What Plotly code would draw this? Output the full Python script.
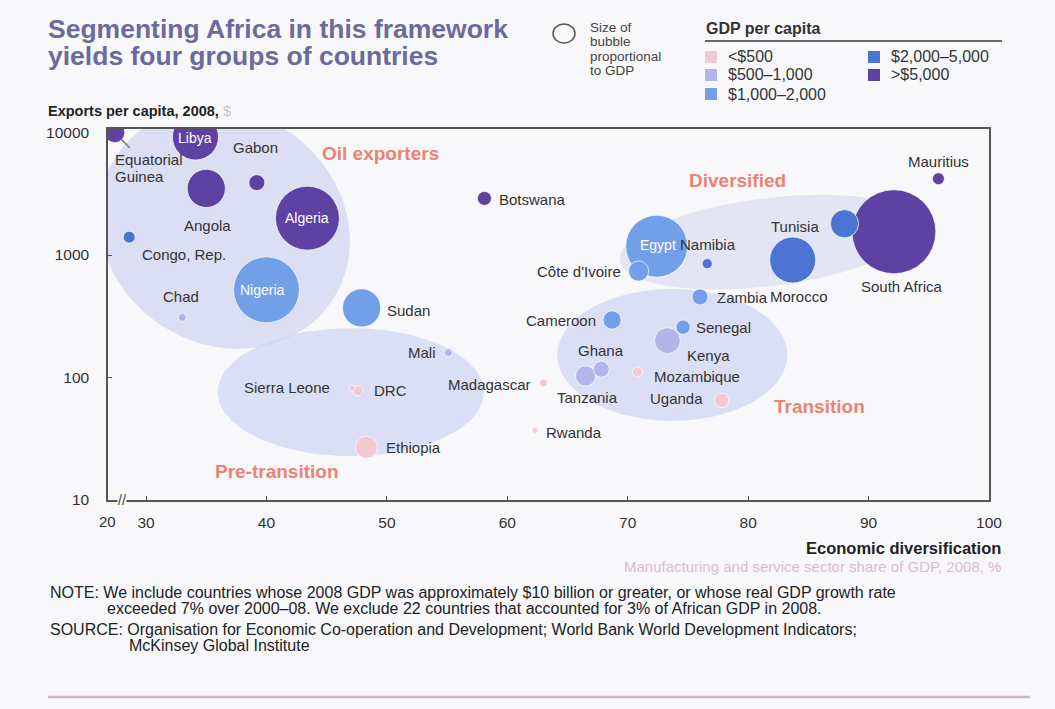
import numpy as np
import plotly.graph_objects as go

# ---------------- data ----------------
countries = ["Equatorial Guinea", "Libya", "Angola", "Gabon", "Algeria", "Congo, Rep.",
             "Nigeria", "Chad", "Sudan", "Botswana", "Mauritius", "South Africa",
             "Tunisia", "Morocco", "Namibia", "Egypt", "Côte d'Ivoire", "Zambia",
             "Cameroon", "Senegal", "Kenya", "Ghana", "Tanzania", "Mozambique",
             "Uganda", "Rwanda", "Madagascar", "Mali", "Sierra Leone", "DRC", "Ethiopia"]
diversification = [27.4, 34.1, 35.0, 39.2, 43.4, 28.6, 40.0, 33.0, 47.9, 58.1, 95.8, 92.1,
                   88.0, 83.7, 76.6, 72.4, 70.9, 76.0, 68.7, 74.6, 73.3, 67.8, 66.5, 70.8,
                   77.8, 62.3, 63.0, 55.1, 47.1, 47.6, 48.3]
exports_pc = [10000, 9200, 3500, 3900, 2000, 1400, 520, 310, 370, 2900, 4200, 1550,
              1800, 910, 850, 1180, 740, 455, 295, 258, 200, 117, 103, 111,
              65, 37, 90, 160, 82, 78, 27]
gdp_bn = [16, 83, 57, 10, 160, 5.6, 170, 2.5, 57, 7.7, 5.6, 276,
          31, 83, 4, 150, 16, 10, 13, 8, 26, 10, 16, 4,
          8, 1.4, 2.5, 2.5, 1.4, 4, 19]
# GDP per capita band index: 0 <$500, 1 $500-1,000, 2 $1,000-2,000, 3 $2,000-5,000, 4 >$5,000
gdp_pc_band = [4, 4, 4, 4, 4, 3, 2, 1, 2, 4, 4, 4,
               3, 3, 3, 2, 2, 2, 2, 2, 1, 1, 1, 0,
               0, 0, 0, 1, 0, 0, 0]
band_labels = ["<$500", "$500–1,000", "$1,000–2,000", "$2,000–5,000", ">$5,000"]
x_ticks = [30, 40, 50, 60, 70, 80, 90, 100]
y_ticks = [10, 100, 1000, 10000]
group_names = ["Oil exporters", "Diversified", "Transition", "Pre-transition"]

# ---------------- styles ----------------
band_colors = ["#f2c9d4", "#b2b5ea", "#72a0e8", "#4c74d5", "#5d42a4"]
BG = "#f8f8fb"
FONT = "Liberation Sans, Arial, sans-serif"
TXT = "#333333"
GROUP_COL = "#ee8272"

W, H = 1055, 709
L, R, T, B = 108, 989, 129, 500
XR = [26.84, 100]
YR = [1, 4.029]
sx = (R - L) / (XR[1] - XR[0])
sy = (B - T) / (YR[1] - YR[0])

def pxx(x):
    return (x - L) / (R - L)

def pxy(y):
    return (B - y) / (B - T)

fig = go.Figure()

# ---------------- group ellipses (decoration) ----------------
ellipses = {
    "Oil exporters": dict(cx=36.5, cy=1660, a=130, b=116, rot=35, fill="rgba(204,206,238,0.62)"),
    "Diversified": dict(cx=81.7, cy=1275, a=150, b=44, rot=-7, fill="rgba(214,216,240,0.6)"),
    "Transition": dict(cx=73.7, cy=153, a=115, b=66, rot=0, fill="rgba(206,212,242,0.7)"),
    "Pre-transition": dict(cx=47.0, cy=76, a=133, b=64, rot=0, fill="rgba(206,212,242,0.7)"),
}
t = np.linspace(0, 2 * np.pi, 121)
for g in group_names:
    e = ellipses[g]
    u = e["a"] * np.cos(t)
    v = e["b"] * np.sin(t)
    th = np.radians(e["rot"])
    X = u * np.cos(th) - v * np.sin(th)
    Y = u * np.sin(th) + v * np.cos(th)
    ex = e["cx"] + X / sx
    ey = 10 ** (np.log10(e["cy"]) - Y / sy)
    fig.add_trace(go.Scatter(x=ex, y=ey, mode="lines", fill="toself",
                             fillcolor=e["fill"], line=dict(width=0),
                             hoverinfo="skip", showlegend=False))

# ---------------- bubbles ----------------
k = 84 / np.sqrt(max(gdp_bn))
order = np.argsort(gdp_bn)[::-1]
fig.add_trace(go.Scatter(
    x=[diversification[i] for i in order],
    y=[exports_pc[i] for i in order],
    mode="markers",
    text=[countries[i] for i in order],
    marker=dict(size=[k * np.sqrt(gdp_bn[i]) for i in order],
                color=[band_colors[gdp_pc_band[i]] for i in order],
                line=dict(color="rgba(255,255,255,0.7)", width=1),
                opacity=1),
    hoverinfo="text", showlegend=False))

# ---------------- country labels ----------------
# (dx, dy in px relative to bubble centre, x anchor, inside-white)
label_pos = {
    "Libya": (0, 1, "center", True),
    "Angola": (1, 37, "center", False),
    "Gabon": (-1, -35, "center", False),
    "Algeria": (0, 0, "center", True),
    "Congo, Rep.": (11, 17, "left", False),
    "Nigeria": (-4, 0, "center", True),
    "Chad": (-1, -21, "center", False),
    "Sudan": (23, 3, "left", False),
    "Botswana": (13, 1, "left", False),
    "Mauritius": (0, -17, "center", False),
    "South Africa": (8, 55, "center", False),
    "Tunisia": (-23, 3, "right", False),
    "Morocco": (6, 36, "center", False),
    "Namibia": (1, -19, "center", False),
    "Egypt": (1, -1, "center", True),
    "Côte d'Ivoire": (-16, 0, "right", False),
    "Zambia": (15, 1, "left", False),
    "Cameroon": (-14, 1, "right", False),
    "Senegal": (11, 0, "left", False),
    "Kenya": (41, 15, "center", False),
    "Ghana": (0, -19, "center", False),
    "Tanzania": (2, 22, "center", False),
    "Mozambique": (15, 5, "left", False),
    "Uganda": (-17, -2, "right", False),
    "Rwanda": (9, 2, "left", False),
    "Madagascar": (-10, 1, "right", False),
    "Mali": (-10, 0, "right", False),
    "Sierra Leone": (-20, -1, "right", False),
    "DRC": (14, 0, "left", False),
    "Ethiopia": (18, 0, "left", False),
}
for i, c in enumerate(countries):
    if c not in label_pos:
        continue
    dx, dy, anc, inside = label_pos[c]
    fig.add_annotation(x=diversification[i], y=np.log10(exports_pc[i]), text=c,
                       xshift=dx, yshift=-dy, xanchor=anc, yanchor="middle",
                       showarrow=False,
                       font=dict(family=FONT, size=14 if inside else 15,
                                 color="white" if inside else TXT))
# Equatorial Guinea: two-line label below-right of its bubble, with a short leader
ieg = countries.index("Equatorial Guinea")
for txt, dy in [("Equatorial", 27), ("Guinea", 44)]:
    fig.add_annotation(x=diversification[ieg], y=np.log10(exports_pc[ieg]), text=txt,
                       xshift=-2, yshift=-dy, xanchor="left", yanchor="middle",
                       showarrow=False, font=dict(family=FONT, size=15, color=TXT))
fig.add_shape(type="line", xref="paper", yref="paper",
              x0=pxx(121), y0=pxy(139), x1=pxx(130), y1=pxy(148),
              line=dict(color="#777", width=1.5))

# ---------------- group labels ----------------
group_label_px = {"Oil exporters": (380, 153), "Diversified": (737, 180),
                  "Transition": (819, 406), "Pre-transition": (277, 471)}
for g in group_names:
    gx, gy = group_label_px[g]
    fig.add_annotation(x=pxx(gx), y=pxy(gy), xref="paper", yref="paper", text="<b>%s</b>" % g,
                       showarrow=False, xanchor="center", yanchor="middle",
                       font=dict(family=FONT, size=19, color=GROUP_COL))

# ---------------- axis break and the "20" label ----------------
fig.add_annotation(x=pxx(122), y=pxy(500), xref="paper", yref="paper", text="//",
                   showarrow=False, bgcolor=BG, borderpad=0, xanchor="center", yanchor="middle",
                   font=dict(family=FONT, size=14, color="#444"))
fig.add_annotation(x=pxx(107), y=pxy(521), xref="paper", yref="paper", text="20",
                   showarrow=False, xanchor="center", yanchor="middle",
                   font=dict(family=FONT, size=15, color=TXT))

# ---------------- titles ----------------
for txt, yy in [("Segmenting Africa in this framework", 29), ("yields four groups of countries", 56)]:
    fig.add_annotation(x=pxx(46), y=pxy(yy), xref="paper", yref="paper",
                       text="<b>%s</b>" % txt, showarrow=False, xanchor="left", yanchor="middle",
                       font=dict(family=FONT, size=26.5, color="#6c6a9c"))
fig.add_annotation(x=pxx(46), y=pxy(111), xref="paper", yref="paper",
                   text="<b>Exports per capita, 2008,</b> <span style='color:#c4c4cc'>$</span>",
                   showarrow=False, xanchor="left", yanchor="middle",
                   font=dict(family=FONT, size=14.5, color="#222"))
fig.add_annotation(x=pxx(1003), y=pxy(548), xref="paper", yref="paper",
                   text="<b>Economic diversification</b>", showarrow=False,
                   xanchor="right", yanchor="middle", font=dict(family=FONT, size=16.5, color="#222"))
fig.add_annotation(x=pxx(1003), y=pxy(566), xref="paper", yref="paper",
                   text="Manufacturing and service sector share of GDP, 2008, %", showarrow=False,
                   xanchor="right", yanchor="middle", font=dict(family=FONT, size=15, color="#d8bcd0"))

# ---------------- footnotes ----------------
notes = [
    (48, 592, "NOTE: We include countries whose 2008 GDP was approximately $10 billion or greater, or whose real GDP growth rate"),
    (105, 608, "exceeded 7% over 2000–08. We exclude 22 countries that accounted for 3% of African GDP in 2008."),
    (48, 629, "SOURCE: Organisation for Economic Co-operation and Development; World Bank World Development Indicators;"),
    (127, 645, "McKinsey Global Institute"),
]
for nx, ny, txt in notes:
    fig.add_annotation(x=pxx(nx), y=pxy(ny), xref="paper", yref="paper", text=txt,
                       showarrow=False, xanchor="left", yanchor="middle",
                       font=dict(family=FONT, size=16, color="#222"))
fig.add_shape(type="line", xref="paper", yref="paper", x0=pxx(48), x1=pxx(1030),
              y0=pxy(697), y1=pxy(697), line=dict(color="#cdb8c8", width=2.5))

# ---------------- custom legend ----------------
fig.add_shape(type="circle", xref="paper", yref="paper",
              x0=pxx(553), x1=pxx(575), y0=pxy(24), y1=pxy(43),
              line=dict(color="#555", width=1.5), fillcolor="rgba(0,0,0,0)")
for txt, yy in [("Size of", 27), ("bubble", 41.5), ("proportional", 56), ("to GDP", 70.5)]:
    fig.add_annotation(x=pxx(589), y=pxy(yy), xref="paper", yref="paper", text=txt,
                       showarrow=False, xanchor="left", yanchor="middle", borderpad=0,
                       font=dict(family=FONT, size=13.5, color="#444"))
fig.add_annotation(x=pxx(704), y=pxy(28), xref="paper", yref="paper",
                   text="<b>GDP per capita</b>", showarrow=False, xanchor="left", yanchor="middle",
                   font=dict(family=FONT, size=16, color="#333"))
fig.add_shape(type="line", xref="paper", yref="paper", x0=pxx(705), x1=pxx(1002),
              y0=pxy(41), y1=pxy(41), line=dict(color="#666", width=2))
legend_px = [(705, 57), (705, 75), (705, 94), (868, 57), (868, 75)]
for j, lab in enumerate(band_labels):
    lx, ly = legend_px[j]
    fig.add_shape(type="rect", xref="paper", yref="paper",
                  x0=pxx(lx), x1=pxx(lx + 12), y0=pxy(ly - 6), y1=pxy(ly + 6),
                  fillcolor=band_colors[j], line=dict(width=0))
    fig.add_annotation(x=pxx(lx + 21), y=pxy(ly), xref="paper", yref="paper", text=lab,
                       showarrow=False, xanchor="left", yanchor="middle",
                       font=dict(family=FONT, size=16, color="#333"))

# ---------------- axes / layout ----------------
fig.update_xaxes(range=XR, tickvals=x_ticks, ticktext=[str(v) for v in x_ticks],
                 ticks="inside", ticklen=4, tickcolor="#555", showline=True, linecolor="#555",
                 linewidth=1.5, mirror=True, showgrid=False, zeroline=False,
                 tickfont=dict(family=FONT, size=15.5, color=TXT), ticklabelstandoff=8)
fig.update_yaxes(type="log", range=YR, tickvals=y_ticks, ticktext=[str(v) for v in y_ticks],
                 ticks="inside", ticklen=4, tickcolor="#555", showline=True, linecolor="#555",
                 linewidth=1.5, mirror=True, showgrid=False, zeroline=False,
                 tickfont=dict(family=FONT, size=15.5, color=TXT), ticklabelstandoff=14)
fig.update_layout(width=W, height=H, autosize=False,
                  margin=dict(l=L, r=W - R, t=T, b=H - B, pad=0),
                  paper_bgcolor=BG, plot_bgcolor=BG, showlegend=False,
                  font=dict(family=FONT, color=TXT))

fig.write_html("out.html", config={"displayModeBar": False},
               post_script="document.body.style.margin='0';document.body.style.overflow='hidden';")
